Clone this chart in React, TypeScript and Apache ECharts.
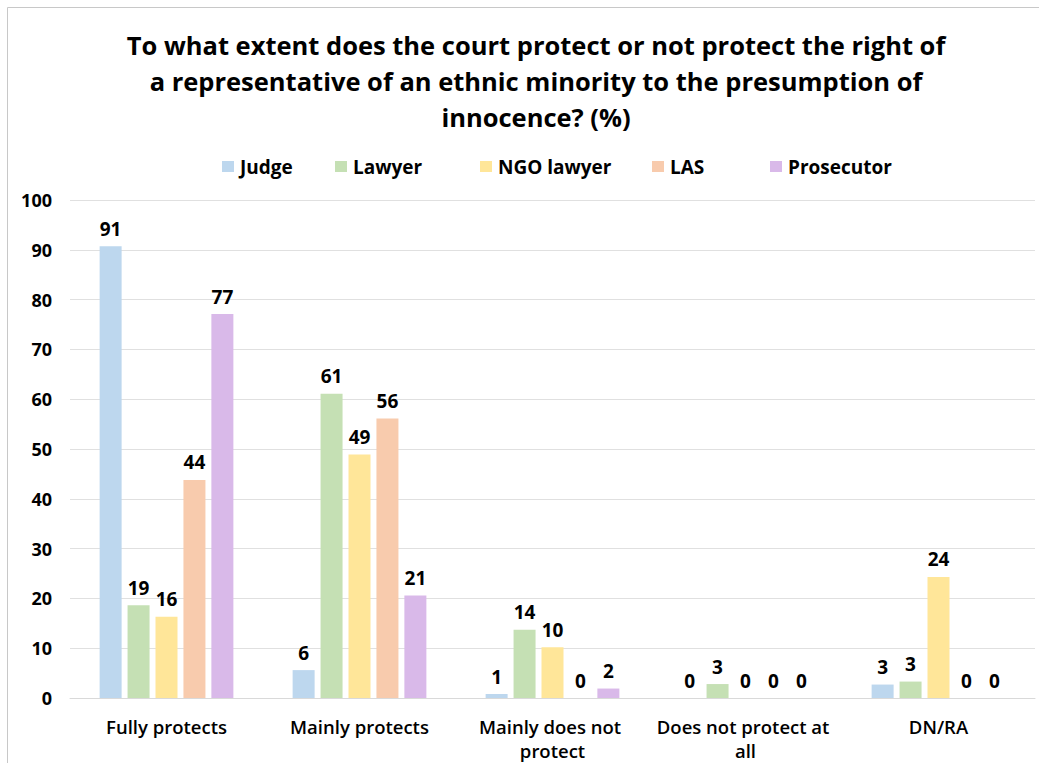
import React, { useEffect, useRef } from "react";
import * as echarts from "echarts";

const categories = [
  "Fully protects",
  "Mainly protects",
  "Mainly does not protect",
  "Does not protect at all",
  "DN/RA",
];
const seriesNames = ["Judge", "Lawyer", "NGO lawyer", "LAS", "Prosecutor"];
const judge = [90.7, 5.6, 0.8, 0, 2.7];
const lawyer = [18.6, 61.1, 13.7, 2.8, 3.3];
const ngoLawyer = [16.3, 48.9, 10.2, 0, 24.3];
const las = [43.8, 56.1, 0, 0, 0];
const prosecutor = [77.1, 20.6, 1.9, 0, 0];
const colors = ["#BDD7EE", "#C5E0B4", "#FFE699", "#F8CBAD", "#D9B9E9"];
const yTicks = { min: 0, max: 100, interval: 10 };
const titleLines = [
  "To what extent does the court protect or not protect the right of",
  "a representative of an ethnic minority to the presumption of",
  "innocence? (%)",
];
const legendLeft = [222, 335, 480, 652, 770];

const FONT = "'Open Sans', 'Noto Sans', sans-serif";

export default function App() {
  const ref = useRef<HTMLDivElement>(null);
  useEffect(() => {
    if (!ref.current) return;
    const chart = echarts.init(ref.current, undefined, { renderer: "svg" });
    const data = [judge, lawyer, ngoLawyer, las, prosecutor];
    chart.setOption({
      animation: false,
      backgroundColor: "#ffffff",
      graphic: [
        {
          type: "rect",
          shape: { x: 7.5, y: 7.5, width: 1100, height: 900 },
          style: { fill: "none", stroke: "#c8c8c8", lineWidth: 1 },
          silent: true,
        },
        {
          type: "text",
          x: 536,
          y: 27,
          style: {
            text: titleLines.join("\n"),
            font: `bold 25.5px ${FONT}`,
            fill: "#000000",
            align: "center",
            lineHeight: 36,
          },
        },
      ],
      legend: seriesNames.map((name, i) => ({
        top: 157,
        left: legendLeft[i],
        data: [name],
        itemWidth: 12,
        itemHeight: 11,
        icon: "rect",
        padding: 0,
        textStyle: {
          fontFamily: FONT,
          fontSize: 19,
          fontWeight: "bold",
          color: "#000",
          padding: [0, 0, 0, 1],
        },
      })),
      grid: {
        left: 70,
        right: 4,
        top: 200,
        bottom: 65,
        containLabel: false,
        outerBoundsMode: "none",
      },
      xAxis: {
        type: "category",
        data: categories,
        axisLine: { show: true, lineStyle: { color: "#d9d9d9" } },
        axisTick: { show: false },
        axisLabel: {
          interval: 0,
          margin: 16,
          width: 185,
          overflow: "break",
          lineHeight: 24,
          fontFamily: FONT,
          fontSize: 18.5,
          fontWeight: 600,
          color: "#000",
        },
      },
      yAxis: {
        type: "value",
        min: yTicks.min,
        max: yTicks.max,
        interval: yTicks.interval,
        axisLine: { show: false },
        axisTick: { show: false },
        splitLine: { lineStyle: { color: "#e0e0e0" } },
        axisLabel: {
          margin: 18,
          fontFamily: FONT,
          fontSize: 18,
          fontWeight: "bold",
          color: "#000",
        },
      },
      series: seriesNames.map((name, i) => ({
        name,
        type: "bar",
        data: data[i],
        barWidth: 22,
        barGap: "27%",
        itemStyle: { color: colors[i] },
        label: {
          show: true,
          position: "top",
          distance: 8,
          formatter: (p: any) => String(Math.round(p.value)),
          fontFamily: FONT,
          fontSize: 19,
          fontWeight: "bold",
          color: "#000",
        },
      })),
    });
    return () => chart.dispose();
  }, []);
  return (
    <div
      ref={ref}
      style={{ position: "fixed", left: 0, top: 0, width: 1039, height: 763 }}
    />
  );
}
